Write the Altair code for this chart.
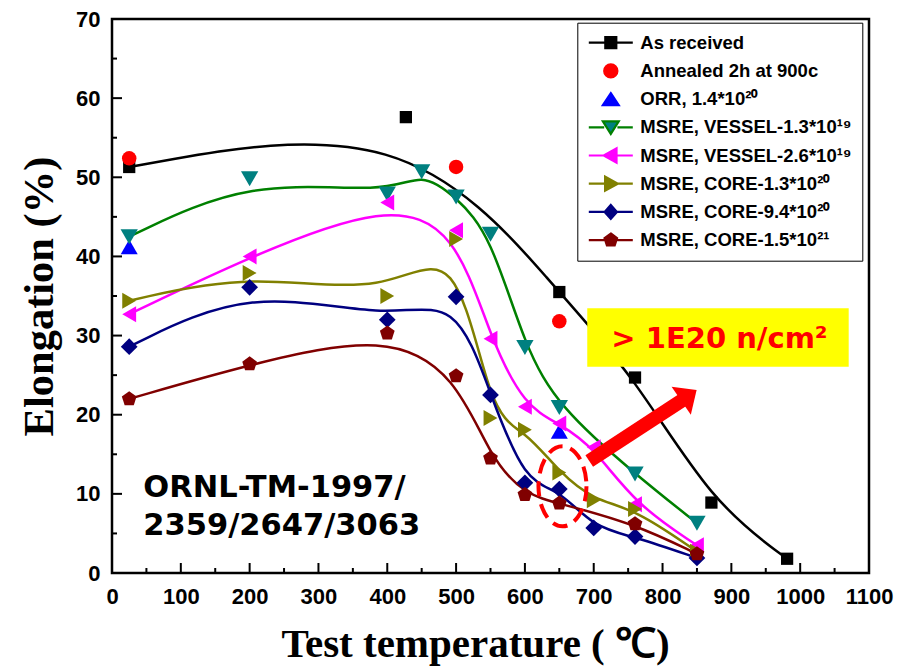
import altair as alt
import pandas as pd

# ---------------- data (test temperature in °C, elongation in %) ----------------
series_names = [
    "As received",
    "Annealed 2h at 900c",
    "ORR, 1.4*10²⁰",
    "MSRE, VESSEL-1.3*10¹⁹",
    "MSRE, VESSEL-2.6*10¹⁹",
    "MSRE, CORE-1.3*10²⁰",
    "MSRE, CORE-9.4*10²⁰",
    "MSRE, CORE-1.5*10²¹",
]

as_received_t = [25, 427, 650, 760, 871, 981]
as_received_e = [51.3, 57.6, 35.5, 24.7, 8.9, 1.8]

annealed_t = [25, 500, 650]
annealed_e = [52.4, 51.3, 31.8]

orr_t = [25, 650]
orr_e = [41.2, 17.9]

vessel_13_t = [25, 200, 400, 450, 500, 550, 600, 650, 760, 850]
vessel_13_e = [42.5, 49.8, 47.9, 50.7, 47.5, 42.8, 28.5, 20.9, 12.5, 6.3]

vessel_26_t = [25, 200, 400, 500, 550, 600, 650, 700, 760, 850]
vessel_26_e = [32.7, 40.0, 46.8, 43.3, 29.6, 21.0, 18.9, 15.9, 8.7, 3.5]

core_13_t = [25, 200, 400, 500, 550, 600, 650, 700, 760, 850]
core_13_e = [34.4, 37.9, 35.0, 42.2, 19.6, 18.1, 12.7, 9.2, 8.1, 2.7]

core_94_t = [25, 200, 400, 500, 550, 600, 650, 700, 760, 850]
core_94_e = [28.6, 36.1, 32.0, 34.9, 22.5, 11.4, 10.6, 5.7, 4.6, 1.9]

core_15_t = [25, 200, 400, 500, 550, 600, 650, 760, 850]
core_15_e = [22.0, 26.4, 30.3, 24.9, 14.5, 9.9, 8.8, 6.2, 2.4]

series_t = [as_received_t, annealed_t, orr_t, vessel_13_t, vessel_26_t, core_13_t, core_94_t, core_15_t]
series_e = [as_received_e, annealed_e, orr_e, vessel_13_e, vessel_26_e, core_13_e, core_94_e, core_15_e]

# axis ticks
x_major = [0, 100, 200, 300, 400, 500, 600, 700, 800, 900, 1000, 1100]
x_minor = [50, 150, 250, 350, 450, 550, 650, 750, 850, 950, 1050]
y_major = [0, 10, 20, 30, 40, 50, 60, 70]
y_minor = [5, 15, 25, 35, 45, 55, 65]

# annotations
note_lines = ["ORNL-TM-1997/", "2359/2647/3063"]
note_t = [45.5, 45.5]
note_e = [9.64, 4.8]

flux_label = ["> 1E20 n/cm²"]
flux_t = [882.7]
flux_e = [28.4]
flux_box_t, flux_box_t2 = [690.6], [1070.5]
flux_box_e, flux_box_e2 = [33.44], [26.07]

arrow_t = [693.5, 831.2]
arrow_e = [14.15, 21.98]
arrow_head_t = [838.3]
arrow_head_e = [22.44]

ring_t = [654.6]
ring_e = [10.95]

# ---------------- styles ----------------
marker_colors = ["#000000", "#ff0000", "#0000ff", "#008080", "#ff00ff", "#808000", "#000080", "#800000"]
line_colors = ["#000000", "#ff0000", "#0000ff", "#008000", "#ff00ff", "#808000", "#000080", "#800000"]
has_line = [True, False, False, True, True, True, True, True]

PENTAGON = "M0,-1L0.951,-0.309L0.588,0.809L-0.588,0.809L-0.951,-0.309Z"
marker_shapes = ["square", "circle", "triangle-up", "triangle-down", "triangle-left",
                 "triangle-right", "diamond", PENTAGON]
marker_sizes = [150, 210, 290, 300, 256, 256, 280, 240]

# legend glyphs: short line segment with the marker in the middle (unit = half of 44 px)
SEG = "M-1,0H-0.3M0.3,0H1"
legend_shapes = [
    SEG + "M-0.25,-0.25H0.25V0.25H-0.25Z",
    "M0.3,0A0.3,0.3,0,1,1,-0.3,0A0.3,0.3,0,1,1,0.3,0Z",
    "M0,-0.27L0.36,0.27L-0.36,0.27Z",
    "M-1,0H-0.3M0.3,0H1M-0.36,-0.27L0.36,-0.27L0,0.3Z",
    "M-1,0H-0.32M0.26,0H1M-0.32,0L0.26,-0.32L0.26,0.32Z",
    "M-1,0H-0.26M0.32,0H1M0.32,0L-0.26,-0.32L-0.26,0.32Z",
    SEG + "M0,-0.32L0.28,0L0,0.32L-0.28,0Z",
    SEG + "M0,-0.3L0.285,-0.093L0.176,0.243L-0.176,0.243L-0.285,-0.093Z",
]

ARROW_HEAD = "M0,-0.55L1,0.55L-1,0.55Z"
RING = "M0.6,0A0.6,1,0,1,1,-0.6,0A0.6,1,0,1,1,0.6,0Z"

SANS = "Liberation Sans, Arial, sans-serif"
SERIF = "Liberation Serif, Times New Roman, serif"
NOTE_FONT = "DejaVu Sans, sans-serif"

W, H = 757, 554

x_scale = alt.Scale(domain=[0, 1100], nice=False, zero=False)
y_scale = alt.Scale(domain=[0, 70], nice=False, zero=False)

x_axis = alt.Axis(
    values=x_major, format="d", title="Test temperature ( ℃)",
    labelFont=SANS, labelFontSize=22, labelFontWeight="bold", labelColor="black",
    labelPadding=13, labelFlush=False, labelOverlap=False,
    ticks=False, domain=False, grid=False,
    titleFont=SERIF, titleFontSize=41, titleFontWeight="bold", titleColor="black",
    titleX=363, titleY=83, titleAlign="center", titleBaseline="alphabetic",
)
y_axis = alt.Axis(
    values=y_major, format="d", title="Elongation (%)",
    labelFont=SANS, labelFontSize=22, labelFontWeight="bold", labelColor="black",
    labelPadding=12, labelFlush=False, labelOverlap=False,
    ticks=False, domain=False, grid=False,
    titleFont=SERIF, titleFontSize=42.5, titleFontWeight="bold", titleColor="black",
    titleAngle=270, titleX=-60, titleY=277, titleAlign="center", titleBaseline="alphabetic",
)


def X(field="t"):
    return alt.X(f"{field}:Q", scale=x_scale, axis=x_axis)


def Y(field="e"):
    return alt.Y(f"{field}:Q", scale=y_scale, axis=y_axis)


layers = []

# smoothed curves
for t, e, lc, draw in zip(series_t, series_e, line_colors, has_line):
    if draw:
        df = pd.DataFrame({"t": t, "e": e})
        layers.append(
            alt.Chart(df).mark_line(interpolate="basis", color=lc, strokeWidth=2.5).encode(x=X(), y=Y())
        )

# measured points
for t, e, mc, shp, sz in zip(series_t, series_e, marker_colors, marker_shapes, marker_sizes):
    df = pd.DataFrame({"t": t, "e": e})
    layers.append(
        alt.Chart(df).mark_point(shape=shp, size=sz, filled=True, color=mc, opacity=1, strokeWidth=0)
        .encode(x=X(), y=Y())
    )

# yellow call-out box with the fluence label
box_df = pd.DataFrame({"t": flux_box_t, "t2": flux_box_t2, "e": flux_box_e, "e2": flux_box_e2})
layers.append(
    alt.Chart(box_df).mark_rect(color="#ffff00", opacity=1)
    .encode(x=X(), x2=alt.X2("t2"), y=Y(), y2=alt.Y2("e2"))
)
flux_df = pd.DataFrame({"t": flux_t, "e": flux_e, "label": flux_label})
layers.append(
    alt.Chart(flux_df).mark_text(font=NOTE_FONT, fontSize=29, fontWeight="bold", color="#ff0000",
                                 align="center", baseline="alphabetic")
    .encode(x=X(), y=Y(), text="label:N")
)

# red arrow
arrow_df = pd.DataFrame({"t": arrow_t, "e": arrow_e})
layers.append(
    alt.Chart(arrow_df).mark_line(color="#ff0000", strokeWidth=14, strokeCap="butt").encode(x=X(), y=Y())
)
head_df = pd.DataFrame({"t": arrow_head_t, "e": arrow_head_e})
layers.append(
    alt.Chart(head_df).mark_point(shape=ARROW_HEAD, size=1156, angle=55.5, filled=True,
                                  color="#ff0000", opacity=1, strokeWidth=0)
    .encode(x=X(), y=Y())
)

# dashed ring around the 650 °C points
ring_df = pd.DataFrame({"t": ring_t, "e": ring_e})
layers.append(
    alt.Chart(ring_df).mark_point(shape=RING, size=6400, filled=False, stroke="#ff0000",
                                  strokeWidth=4, strokeDash=[15, 8], opacity=1)
    .encode(x=X(), y=Y())
)

# report reference
note_df = pd.DataFrame({"t": note_t, "e": note_e, "label": note_lines})
layers.append(
    alt.Chart(note_df).mark_text(font=NOTE_FONT, fontSize=30.5, fontWeight="bold", color="black",
                                 align="left", baseline="alphabetic")
    .encode(x=X(), y=Y(), text="label:N")
)

# inward ticks
y_base = alt.YDatum(0, scale=y_scale, axis=y_axis)
x_base = alt.XDatum(0, scale=x_scale, axis=x_axis)
for vals, ln in ((x_major, 10), (x_minor, 5)):
    layers.append(
        alt.Chart(pd.DataFrame({"t": vals})).mark_tick(orient="vertical", size=ln, thickness=2,
                                                       yOffset=-ln / 2, color="black", opacity=1)
        .encode(x=X(), y=y_base)
    )
for vals, ln in ((y_major, 10), (y_minor, 5)):
    layers.append(
        alt.Chart(pd.DataFrame({"e": vals})).mark_tick(orient="horizontal", size=ln, thickness=2,
                                                       xOffset=ln / 2, color="black", opacity=1)
        .encode(x=x_base, y=Y())
    )

# legend
legend = alt.Legend(
    orient="none", legendX=465.3, legendY=3.7, title=None, padding=10,
    fillColor="white", strokeColor="black",
    symbolSize=1936, symbolStrokeWidth=2.2, symbolOpacity=1, clipHeight=20, rowPadding=8.2,
    labelOffset=6, labelFont=SANS, labelFontSize=18.5, labelFontWeight="bold",
    labelColor="black", labelLimit=400,
)
legend_df = pd.DataFrame({"series": series_names})
layers.append(
    alt.Chart(legend_df).transform_filter("false").mark_point(filled=True, opacity=1)
    .encode(
        fill=alt.Fill("series:N", scale=alt.Scale(domain=series_names, range=marker_colors), legend=legend),
        stroke=alt.Stroke("series:N", scale=alt.Scale(domain=series_names, range=line_colors), legend=legend),
        shape=alt.Shape("series:N", scale=alt.Scale(domain=series_names, range=legend_shapes), legend=legend),
    )
)

chart = (
    alt.layer(*layers)
    .properties(
        width=W, height=H,
        autosize=alt.AutoSizeParams(type="none"),
        padding={"left": 112, "top": 19, "right": 39, "bottom": 96},
        background="white",
    )
    .configure_view(stroke="black", strokeWidth=2.5)
)

chart.save("out.html", embed_options={"renderer": "svg", "actions": False})
